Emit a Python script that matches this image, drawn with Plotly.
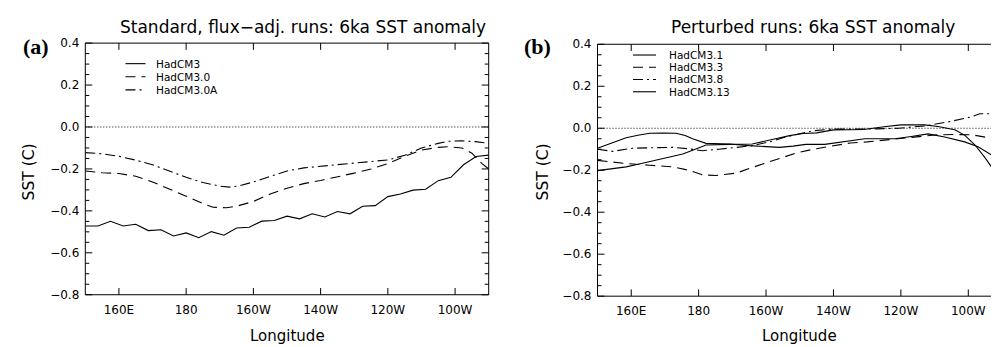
import plotly.graph_objects as go

# ---------------- data ----------------
# Panel (a): standard, flux-adjusted runs
lon_hadcm3 = [150.0, 153.75, 157.5, 161.25, 165.0, 168.75, 172.5, 176.25, 180.0, 183.75,
              187.5, 191.25, 195.0, 198.75, 202.5, 206.25, 210.0, 213.75, 217.5, 221.25,
              225.0, 228.75, 232.5, 236.25, 240.0, 243.75, 247.5, 251.25, 255.0, 258.75,
              262.5, 266.25, 270.0]
sst_hadcm3 = [-0.472, -0.472, -0.450, -0.472, -0.464, -0.494, -0.490, -0.520, -0.505, -0.528,
              -0.499, -0.516, -0.482, -0.478, -0.449, -0.446, -0.425, -0.438, -0.414, -0.429,
              -0.403, -0.414, -0.378, -0.375, -0.332, -0.320, -0.301, -0.297, -0.256, -0.240,
              -0.180, -0.141, -0.134]

lon_hadcm30 = [150, 155, 160, 165, 170, 175, 180, 185, 188, 192, 195, 200, 205, 210, 215, 220,
               225, 230, 235, 240, 245, 250, 255, 258, 262, 265, 268, 270]
sst_hadcm30 = [-0.210, -0.218, -0.222, -0.235, -0.262, -0.295, -0.330, -0.365, -0.383, -0.385,
               -0.378, -0.355, -0.320, -0.292, -0.270, -0.255, -0.238, -0.220, -0.200, -0.175,
               -0.140, -0.110, -0.097, -0.094, -0.100, -0.125, -0.175, -0.200]

lon_hadcm30a = [150, 155, 160, 165, 170, 175, 180, 185, 190, 193, 196, 200, 205, 210, 215, 220,
                225, 230, 235, 240, 245, 250, 255, 258, 262, 266, 270]
sst_hadcm30a = [-0.122, -0.128, -0.140, -0.158, -0.180, -0.210, -0.240, -0.265, -0.282, -0.287,
                -0.280, -0.262, -0.235, -0.210, -0.195, -0.187, -0.180, -0.172, -0.165, -0.157,
                -0.135, -0.100, -0.078, -0.068, -0.066, -0.070, -0.078]

# Panel (b): perturbed runs
lon_hadcm31 = [150, 154, 158.5, 162, 165.5, 169.5, 173.3, 176, 178.2, 182.2, 186, 189.1, 195,
               200, 203.9, 208, 211.8, 217.4, 223, 229.3, 233.5, 238.2, 243.1, 248.1, 253,
               258.9, 262.9, 266.8, 270]
sst_hadcm31 = [-0.095, -0.070, -0.045, -0.033, -0.024, -0.023, -0.024, -0.035, -0.050, -0.072,
               -0.074, -0.075, -0.083, -0.088, -0.091, -0.085, -0.077, -0.077, -0.064, -0.050,
               -0.050, -0.050, -0.039, -0.027, -0.042, -0.065, -0.088, -0.126, -0.164]

lon_hadcm33 = [150, 158.5, 165.4, 172.3, 177, 181.2, 185.2, 191.1, 199, 204, 209, 214, 220,
               225, 230, 235, 240, 245, 251, 256, 261, 266, 270]
sst_hadcm33 = [-0.153, -0.168, -0.176, -0.184, -0.200, -0.222, -0.225, -0.214, -0.170, -0.145,
               -0.118, -0.100, -0.085, -0.070, -0.065, -0.057, -0.050, -0.042, -0.031, -0.030,
               -0.031, -0.045, -0.070]

lon_hadcm38 = [150, 154.5, 160.5, 166, 172.4, 177, 181.2, 186, 191, 196, 201.7, 205, 208.6,
               214, 219.4, 229.3, 239.2, 247.1, 254, 260.9, 263.4, 266.4, 270]
sst_hadcm38 = [-0.100, -0.110, -0.095, -0.092, -0.091, -0.098, -0.107, -0.100, -0.092, -0.083,
               -0.062, -0.045, -0.031, -0.012, -0.004, -0.004, 0.000, 0.011, 0.030, 0.054,
               0.069, 0.069, 0.040]

lon_hadcm313 = [150, 154, 158.5, 163, 167, 171, 175.3, 179, 182.2, 189, 195.9, 202.8, 207, 211,
                215, 220, 229, 235, 240, 247, 251, 256, 259, 262, 265, 268, 270]
sst_hadcm313 = [-0.202, -0.195, -0.184, -0.168, -0.153, -0.140, -0.123, -0.100, -0.080, -0.077,
                -0.075, -0.050, -0.035, -0.025, -0.022, -0.008, -0.006, 0.007, 0.016, 0.016,
                0.008, -0.007, -0.034, -0.080, -0.141, -0.210, -0.255]

x_tickvals = [160, 180, 200, 220, 240, 260]
x_ticktext = ["160E", "180", "160W", "140W", "120W", "100W"]
y_tickvals = [-0.8, -0.6, -0.4, -0.2, 0.0, 0.2, 0.4]
y_minorvals = [-0.75, -0.7, -0.65, -0.55, -0.5, -0.45, -0.35, -0.3, -0.25,
               -0.15, -0.1, -0.05, 0.05, 0.1, 0.15, 0.25, 0.3, 0.35]

panel_a_series = [
    ("HadCM3", lon_hadcm3, sst_hadcm3, "solid"),
    ("HadCM3.0", lon_hadcm30, sst_hadcm30, "10px,6px"),
    ("HadCM3.0A", lon_hadcm30a, sst_hadcm30a, "10px,4px,2px,4px"),
]
panel_b_series = [
    ("HadCM3.1", lon_hadcm31, sst_hadcm31, "solid"),
    ("HadCM3.3", lon_hadcm33, sst_hadcm33, "10px,6px"),
    ("HadCM3.8", lon_hadcm38, sst_hadcm38, "10px,4px,2px,4px"),
    ("HadCM3.13", lon_hadcm313, sst_hadcm313, "solid"),
]

# ---------------- figure ----------------
W, H = 999, 347
FONT = "DejaVu Sans"
X_RANGE = [150, 270]
Y_RANGE = [-0.8, 0.4]

# panel boxes in pixels: (left, right, top, bottom)
BOX_A = (77.3, 480.7, 29.3, 291.5)
BOX_B = (589.5, 994.0, 30.5, 293.0)


def px(x):
    return x / W


def py(y):
    return 1 - y / H


fig = go.Figure()

for name, lx, ly, dash in panel_a_series:
    fig.add_trace(go.Scatter(x=lx, y=ly, mode="lines", name=name, xaxis="x", yaxis="y",
                             line=dict(color="black", width=1.1, dash=dash), showlegend=False))
for name, lx, ly, dash in panel_b_series:
    fig.add_trace(go.Scatter(x=lx, y=ly, mode="lines", name=name, xaxis="x2", yaxis="y2",
                             line=dict(color="black", width=1.1, dash=dash), showlegend=False))

common_x = dict(range=X_RANGE, tickmode="array", tickvals=x_tickvals, ticktext=x_ticktext,
                ticks="", showline=False, showgrid=False, zeroline=False, ticklabelstandoff=6)
common_y = dict(range=Y_RANGE, tickmode="array", tickvals=y_tickvals, tickformat=".1f",
                ticks="", showline=False, showgrid=False, zeroline=False, ticklabelstandoff=5)

fig.update_layout(
    width=W, height=H,
    margin=dict(l=0, r=0, t=0, b=0),
    paper_bgcolor="white", plot_bgcolor="white",
    font=dict(family=FONT, size=12, color="black"),
    showlegend=False,
    xaxis=dict(domain=[px(BOX_A[0]), px(BOX_A[1])], anchor="y", **common_x),
    yaxis=dict(domain=[py(BOX_A[3]), py(BOX_A[2])], anchor="x", **common_y),
    xaxis2=dict(domain=[px(BOX_B[0]), px(BOX_B[1])], anchor="y2", **common_x),
    yaxis2=dict(domain=[py(BOX_B[3]), py(BOX_B[2])], anchor="x2", **common_y),
)


def paper_line(x0, y0, x1, y1, width=1.0, dash="solid"):
    fig.add_shape(type="line", xref="paper", yref="paper",
                  x0=px(x0), y0=py(y0), x1=px(x1), y1=py(y1),
                  line=dict(color="black", width=width, dash=dash))


MAJOR_LEN, MINOR_LEN = 7, 4
for box in (BOX_A, BOX_B):
    L, R, T, B = box

    def xpix(v, L=L, R=R):
        return L + (v - X_RANGE[0]) / (X_RANGE[1] - X_RANGE[0]) * (R - L)

    def ypix(v, T=T, B=B):
        return B - (v - Y_RANGE[0]) / (Y_RANGE[1] - Y_RANGE[0]) * (B - T)

    # frame
    paper_line(L, T, R, T)
    paper_line(L, B, R, B)
    paper_line(L, T, L, B)
    paper_line(R, T, R, B)
    # x ticks, bottom and top, pointing inward
    for t in x_tickvals:
        xp = xpix(t)
        paper_line(xp, B, xp, B - MAJOR_LEN)
        paper_line(xp, T, xp, T + MAJOR_LEN)
    # y ticks, left and right, pointing inward
    for vals, length in ((y_tickvals, MAJOR_LEN), (y_minorvals, MINOR_LEN)):
        for v in vals:
            yp = ypix(v)
            paper_line(L, yp, L + length, yp)
            paper_line(R, yp, R - length, yp)
    # dotted zero reference line
    paper_line(L, ypix(0.0), R, ypix(0.0), dash="1px,2px")

annotations = []
# panel titles
annotations.append(dict(text="Standard, flux\u2212adj. runs: 6ka SST anomaly", x=px(295), y=py(13),
                        font=dict(family=FONT, size=17, color="black")))
annotations.append(dict(text="Perturbed runs: 6ka SST anomaly", x=px(805), y=py(13),
                        font=dict(family=FONT, size=17, color="black")))
# panel letters
annotations.append(dict(text="<b>(a)</b>", x=px(28), y=py(33),
                        font=dict(family="Liberation Serif", size=22, color="black")))
annotations.append(dict(text="<b>(b)</b>", x=px(529), y=py(33),
                        font=dict(family="Liberation Serif", size=22, color="black")))
# axis titles
for cx in (279, 791):
    annotations.append(dict(text="Longitude", x=px(cx), y=py(334),
                            font=dict(family=FONT, size=15, color="black")))
for cx in (21, 535):
    annotations.append(dict(text="SST (C)", x=px(cx), y=py(164), textangle=-90,
                            font=dict(family=FONT, size=15.5, color="black")))

# legends (keys + labels inside each panel)
legend_a_rows = [50.7, 64.3, 78.0]
legend_b_rows = [41.7, 54.5, 67.2, 80.0]
for (name, _, _, dash), row in zip(panel_a_series, legend_a_rows):
    paper_line(117.5, row, 137.5, row, width=1.1, dash=dash)
    annotations.append(dict(text=name, x=px(146), y=py(row), xanchor="left",
                            font=dict(family=FONT, size=10.5, color="black")))
for (name, _, _, dash), row in zip(panel_b_series, legend_b_rows):
    paper_line(625, row, 648, row, width=1.1, dash=dash)
    annotations.append(dict(text=name, x=px(659), y=py(row), xanchor="left",
                            font=dict(family=FONT, size=10.5, color="black")))

for a in annotations:
    a.setdefault("xanchor", "center")
    a.update(xref="paper", yref="paper", yanchor="middle", showarrow=False)
fig.update_layout(annotations=annotations)

fig.write_html("out.html")
